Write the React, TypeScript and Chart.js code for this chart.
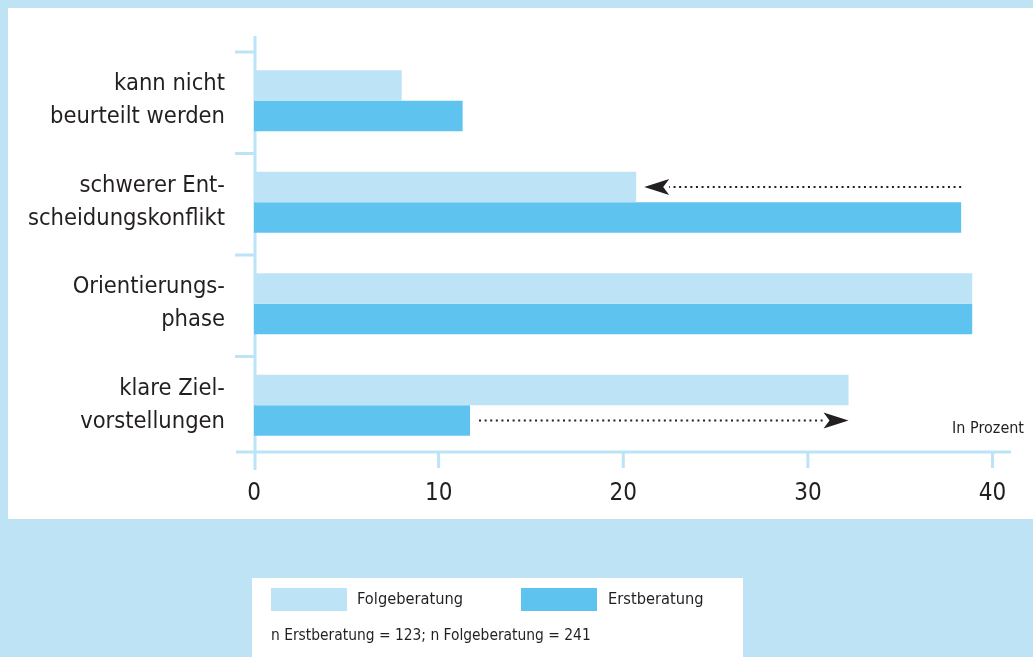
import React, { useEffect, useRef } from "react";
import { Chart, registerables } from "chart.js";

Chart.register(...registerables);

// ---- data ----
const categories: string[][] = [
  ["kann nicht", "beurteilt werden"],
  ["schwerer Ent-", "scheidungskonflikt"],
  ["Orientierungs-", "phase"],
  ["klare Ziel-", "vorstellungen"],
];
const seriesNames = ["Folgeberatung", "Erstberatung"];
const folgeberatung = [8.0, 20.7, 38.9, 32.2];
const erstberatung = [11.3, 38.3, 38.9, 11.7];
const xTicks = [0, 10, 20, 30, 40];
const unitLabel = "In Prozent";
const footnote = "n Erstberatung = 123; n Folgeberatung = 241";
// arrows: category index, from series -> to series
const arrows = [
  { category: 1, from: 1, to: 0 },
  { category: 3, from: 1, to: 0 },
];

// ---- styles ----
const LIGHT = "#bce3f6";
const DARK = "#5ec4ef";
const BG = "#bde3f5";
const TEXT = "#231f20";
const FONT = "'DejaVu Sans Condensed', 'Liberation Sans Narrow', Roboto, sans-serif";

function drawArrow(ctx: CanvasRenderingContext2D, xStart: number, xTip: number, yy: number) {
  const dir = Math.sign(xTip - xStart);
  const headLen = 25;
  const headHalf = 8;
  ctx.save();
  ctx.strokeStyle = TEXT;
  ctx.fillStyle = TEXT;
  ctx.lineWidth = 2;
  ctx.setLineDash([2, 3.6]);
  ctx.beginPath();
  ctx.moveTo(xStart, yy);
  ctx.lineTo(xTip - dir * headLen, yy);
  ctx.stroke();
  ctx.setLineDash([]);
  ctx.beginPath();
  ctx.moveTo(xTip, yy);
  ctx.lineTo(xTip - dir * headLen, yy - headHalf);
  ctx.lineTo(xTip - dir * (headLen - 6), yy);
  ctx.lineTo(xTip - dir * headLen, yy + headHalf);
  ctx.closePath();
  ctx.fill();
  ctx.restore();
}

const decorPlugin = {
  id: "decor",
  beforeDraw(chart: any) {
    const { ctx, width, height } = chart;
    ctx.save();
    ctx.fillStyle = BG;
    ctx.fillRect(0, 0, width, height);
    ctx.fillStyle = "#ffffff";
    ctx.fillRect(8, 8, width - 8, 511);
    ctx.restore();
  },
  beforeDatasetsDraw(chart: any) {
    const { ctx, chartArea } = chart;
    const x = chart.scales.x;
    const y = chart.scales.y;
    const axisY = chartArea.bottom - 4;
    const x0 = x.getPixelForValue(0) + 1;
    ctx.save();
    ctx.strokeStyle = LIGHT;
    ctx.lineWidth = 3;
    ctx.beginPath();
    // y axis line
    ctx.moveTo(x0, chartArea.top - 14);
    ctx.lineTo(x0, axisY + 18);
    // category boundary ticks
    for (let i = 0; i < categories.length; i++) {
      const yb = y.getPixelForValue(i - 0.5) + 2;
      ctx.moveTo(x0 - 20, yb);
      ctx.lineTo(x0, yb);
    }
    // x axis line
    ctx.moveTo(x0 - 19, axisY);
    ctx.lineTo(chartArea.right, axisY);
    // x ticks
    xTicks.forEach((v) => {
      if (v === 0) return;
      const px = x.getPixelForValue(v);
      ctx.moveTo(px, axisY);
      ctx.lineTo(px, axisY + 16);
    });
    ctx.stroke();
    ctx.restore();
  },
  afterDraw(chart: any) {
    const { ctx, chartArea } = chart;
    // arrows
    arrows.forEach((a) => {
      const fromEl = chart.getDatasetMeta(a.from).data[a.category];
      const toEl = chart.getDatasetMeta(a.to).data[a.category];
      const fromX = fromEl.x;
      const toX = toEl.x;
      if (toX < fromX) {
        drawArrow(ctx, fromX, toX + 8, toEl.y);
      } else {
        drawArrow(ctx, fromX + 9, toX, fromEl.y);
      }
    });
    ctx.save();
    // unit label
    ctx.fillStyle = TEXT;
    ctx.font = `16px ${FONT}`;
    ctx.textAlign = "right";
    ctx.textBaseline = "middle";
    ctx.fillText(unitLabel, 1024, chartArea.bottom - 27);

    // legend box
    ctx.fillStyle = "#ffffff";
    ctx.fillRect(252, 578, 491, 90);
    const ds = chart.data.datasets;
    const items = [
      { sx: 271, tx: 357 },
      { sx: 521, tx: 608 },
    ];
    items.forEach((it, i) => {
      ctx.fillStyle = ds[i].backgroundColor;
      ctx.fillRect(it.sx, 588, 76, 23);
      ctx.fillStyle = TEXT;
      ctx.font = `16.3px ${FONT}`;
      ctx.textAlign = "left";
      ctx.textBaseline = "middle";
      ctx.fillText(ds[i].label, it.tx, 600);
    });
    ctx.font = `15.4px ${FONT}`;
    ctx.fillText(footnote, 271, 636);
    ctx.restore();
  },
};

export default function App() {
  const ref = useRef<HTMLCanvasElement | null>(null);
  useEffect(() => {
    if (!ref.current) return;
    const chart = new Chart(ref.current, {
      type: "bar",
      data: {
        labels: categories,
        datasets: [
          { label: seriesNames[0], data: folgeberatung, backgroundColor: LIGHT, categoryPercentage: 0.6, barPercentage: 1 },
          { label: seriesNames[1], data: erstberatung, backgroundColor: DARK, categoryPercentage: 0.6, barPercentage: 1 },
        ],
      },
      options: {
        indexAxis: "y",
        animation: false,
        responsive: false,
        maintainAspectRatio: false,
        layout: { padding: { left: 0, top: 50, right: 22, bottom: 141 } },
        plugins: { legend: { display: false }, tooltip: { enabled: false } },
        scales: {
          y: {
            type: "category",
            grid: { display: false, drawTicks: false },
            border: { display: false },
            ticks: {
              font: { family: FONT, size: 23.5, lineHeight: 1.4 },
              color: TEXT,
              padding: 29,
              autoSkip: false,
            },
            afterFit(s: any) {
              s.width = 254;
              s.paddingTop = 0;
              s.paddingBottom = 0;
            },
          },
          x: {
            type: "linear",
            min: 0,
            max: 41,
            position: "bottom",
            grid: { display: false, drawTicks: false },
            border: { display: false },
            afterBuildTicks(s: any) {
              s.ticks = xTicks.map((v) => ({ value: v }));
            },
            ticks: {
              font: { family: FONT, size: 24 },
              color: TEXT,
              padding: 23,
              maxRotation: 0,
            },
            afterFit(s: any) {
              s.height = 60;
            },
          },
        },
      },
      plugins: [decorPlugin],
    } as any);
    return () => chart.destroy();
  }, []);
  return (
    <div style={{ position: "fixed", left: 0, top: 0, width: 1033, height: 657 }}>
      <canvas ref={ref} width={1033} height={657} style={{ display: "block" }} />
    </div>
  );
}
